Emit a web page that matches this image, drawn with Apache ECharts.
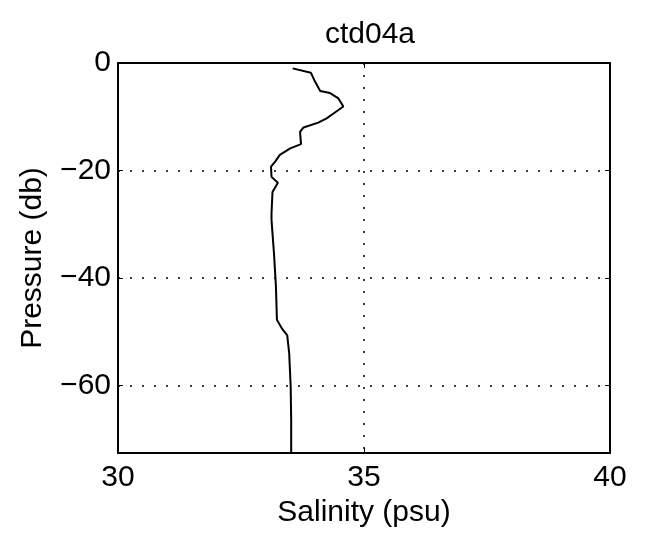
<!DOCTYPE html>
<html>
<head>
<meta charset="utf-8">
<script src="https://cdn.jsdelivr.net/npm/echarts@6/dist/echarts.min.js"></script>
<style>
html,body{margin:0;padding:0;background:#fff;}
#chart{width:645px;height:549px;}
</style>
</head>
<body>
<div id="chart"></div>
<script>
var titleText = 'ctd04a';
var xName = 'Salinity (psu)';
var yName = 'Pressure (db)';
var salinity = [33.55, 33.92, 33.99, 34.11, 34.31, 34.48, 34.58, 34.38, 34.24, 34.07, 33.77, 33.70, 33.72, 33.50, 33.29, 33.19, 33.11, 33.12, 33.25, 33.14, 33.12, 33.12, 33.17, 33.21, 33.23, 33.33, 33.44, 33.48, 33.51, 33.52, 33.52];
var pressure = [-1.0, -1.8, -3.2, -5.2, -5.6, -6.6, -8.1, -9.4, -10.3, -11.1, -12.0, -12.8, -15.1, -15.9, -17.1, -18.4, -19.3, -21.2, -22.3, -24.0, -28.0, -29.2, -35.4, -41.6, -47.8, -49.4, -50.7, -54.1, -60.3, -66.5, -72.6];
var xTicks = [30, 35, 40];
var yTicks = [0, -20, -40, -60];

var profile = salinity.map(function (s, i) { return [s, pressure[i]]; });

var FONT = 'Liberation Sans, Arial, sans-serif';
function fmtY(v) {
  if (yTicks.indexOf(v) < 0) return '';
  return String(v).replace('-', '\u2212');
}
function fmtX(v) {
  return xTicks.indexOf(v) < 0 ? '' : String(v);
}
var gridLine = { show: true, lineStyle: { color: '#000', width: 1.5, type: [2, 10] } };

var chart = echarts.init(document.getElementById('chart'), null, { renderer: 'canvas' });
chart.setOption({
  backgroundColor: '#fff',
  animation: false,
  title: {
    text: titleText, left: 365, top: 15, textAlign: 'center',
    textStyle: { fontFamily: FONT, fontSize: 30, fontWeight: 'normal', color: '#000' }
  },
  grid: { left: 118, right: 35, top: 63, bottom: 96, containLabel: false },
  xAxis: [{
    type: 'value', min: 30, max: 40, interval: 5,
    name: xName, nameLocation: 'middle', nameGap: 44,
    nameTextStyle: { fontFamily: FONT, fontSize: 30, color: '#000' },
    axisLine: { show: true, onZero: false, lineStyle: { color: '#000', width: 2 } },
    axisTick: { show: true, inside: true, length: 5, lineStyle: { color: '#000', width: 1 } },
    axisLabel: { fontFamily: FONT, fontSize: 30, color: '#000', margin: 10, formatter: fmtX },
    splitLine: gridLine
  }, {
    type: 'value', min: 30, max: 40, interval: 5, position: 'top',
    axisLine: { show: true, onZero: false, lineStyle: { color: '#000', width: 2 } },
    axisTick: { show: true, inside: true, length: 5, lineStyle: { color: '#000', width: 1 } },
    axisLabel: { show: false }, splitLine: { show: false }
  }],
  yAxis: [{
    type: 'value', min: -72.6, max: 0, splitNumber: 4,
    name: yName, nameLocation: 'middle', nameGap: 70, nameRotate: 90,
    nameTextStyle: { fontFamily: FONT, fontSize: 30, color: '#000' },
    axisLine: { show: true, onZero: false, lineStyle: { color: '#000', width: 2 } },
    axisTick: { show: true, inside: true, length: 5, lineStyle: { color: '#000', width: 1 } },
    axisLabel: { fontFamily: FONT, fontSize: 30, color: '#000', margin: 7, showMinLabel: false, formatter: fmtY },
    splitLine: gridLine
  }, {
    type: 'value', min: -72.6, max: 0, splitNumber: 4, position: 'right',
    axisLine: { show: true, onZero: false, lineStyle: { color: '#000', width: 2 } },
    axisTick: { show: true, inside: true, length: 5, lineStyle: { color: '#000', width: 1 } },
    axisLabel: { show: false }, splitLine: { show: false }
  }],
  series: [{
    type: 'line', data: profile, xAxisIndex: 0, yAxisIndex: 0,
    showSymbol: false, symbol: 'none',
    lineStyle: { color: '#000', width: 2 }, clip: true
  }]
});
</script>
</body>
</html>
